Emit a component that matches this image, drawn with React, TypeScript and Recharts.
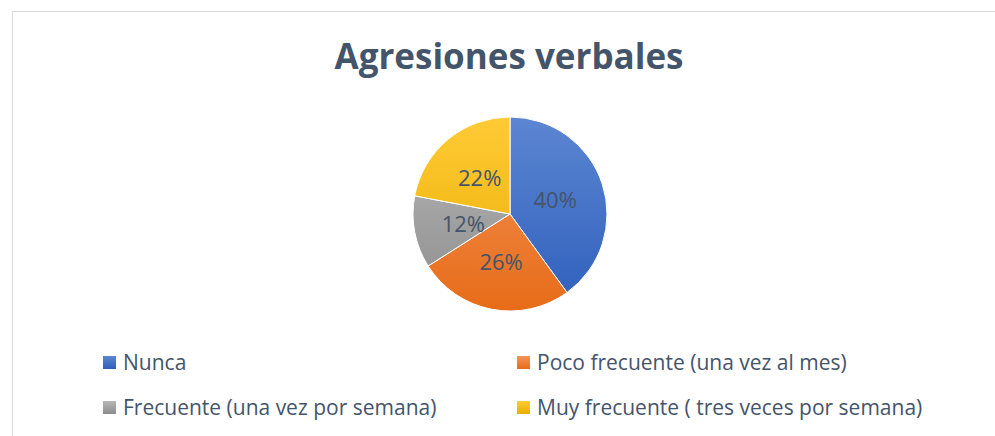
import { PieChart, Pie, Cell, Legend } from "recharts";

const categories = [
  "Nunca",
  "Poco frecuente (una vez al mes)",
  "Frecuente (una vez por semana)",
  "Muy frecuente ( tres veces por semana)",
];
const values = [40, 26, 12, 22];

const TOP = ["#5C86D2", "#F4935A", "#B8B8B8", "#FFCA35"];
const BOTTOM = ["#2F5FBC", "#E76C18", "#8C8C8C", "#E9AE00"];

const TEXT = "#44546A";
const FONT = "'Open Sans', sans-serif";

const data = categories.map((name, i) => ({ name, value: values[i] }));

const RAD = Math.PI / 180;

const renderLabel = (p: any) => {
  const r = p.outerRadius * 0.49;
  const x = p.cx + r * Math.cos(-p.midAngle * RAD);
  const y = p.cy + r * Math.sin(-p.midAngle * RAD);
  return (
    <text x={x} y={y} fill={TEXT} fontSize={22} fontFamily={FONT} textAnchor="middle" dominantBaseline="central">
      {`${Math.round(p.percent * 100)}%`}
    </text>
  );
};

const legendPos = [
  { left: 103, top: 352 },
  { left: 517, top: 352 },
  { left: 103, top: 397 },
  { left: 517, top: 397 },
];

const renderLegend = () => (
  <div style={{ position: "relative", width: 995, height: 90 }}>
    {categories.map((c, i) => (
      <div
        key={c}
        style={{
          position: "absolute",
          left: legendPos[i].left,
          top: legendPos[i].top - 348,
          height: 20,
          display: "flex",
          alignItems: "center",
          fontFamily: FONT,
          fontSize: 21,
          color: TEXT,
          whiteSpace: "nowrap",
        }}
      >
        <span
          style={{
            display: "inline-block",
            width: 13,
            height: 13,
            marginRight: 7,
            background: `linear-gradient(${TOP[i]}, ${BOTTOM[i]})`,
          }}
        />
        {c}
      </div>
    ))}
  </div>
);

export default function App() {
  return (
    <div style={{ position: "absolute", left: 0, top: 0, width: 995, height: 436, background: "#fff" }}>
      <div
        style={{
          position: "absolute",
          left: 12,
          top: 11,
          width: 983,
          height: 425,
          borderTop: "1px solid #D9D9D9",
          borderLeft: "1px solid #D9D9D9",
        }}
      />
      <div
        style={{
          position: "absolute",
          left: 0,
          top: 32,
          width: 1018,
          textAlign: "center",
          fontFamily: FONT,
          fontWeight: 700,
          fontSize: 35,
          color: TEXT,
        }}
      >
        Agresiones verbales
      </div>
      <PieChart
        width={995}
        height={436}
        margin={{ top: 0, right: 0, bottom: 0, left: 0 }}
        style={{ position: "absolute", left: 0, top: 0 }}
      >
        <defs>
          {TOP.map((t, i) => (
            <linearGradient key={i} id={`g${i}`} gradientUnits="userSpaceOnUse" x1="0" y1="117" x2="0" y2="311">
              <stop offset="0%" stopColor={t} />
              <stop offset="100%" stopColor={BOTTOM[i]} />
            </linearGradient>
          ))}
        </defs>
        <Pie
          data={data}
          dataKey="value"
          nameKey="name"
          cx={510}
          cy={214}
          outerRadius={97}
          startAngle={90}
          endAngle={-270}
          stroke="#fff"
          strokeWidth={1}
          label={renderLabel}
          labelLine={false}
          isAnimationActive={false}
        >
          {data.map((d, i) => (
            <Cell key={d.name} fill={`url(#g${i})`} />
          ))}
        </Pie>
        <Legend
          content={renderLegend}
          wrapperStyle={{ position: "absolute", left: 0, top: 348, width: 995 }}
        />
      </PieChart>
    </div>
  );
}
